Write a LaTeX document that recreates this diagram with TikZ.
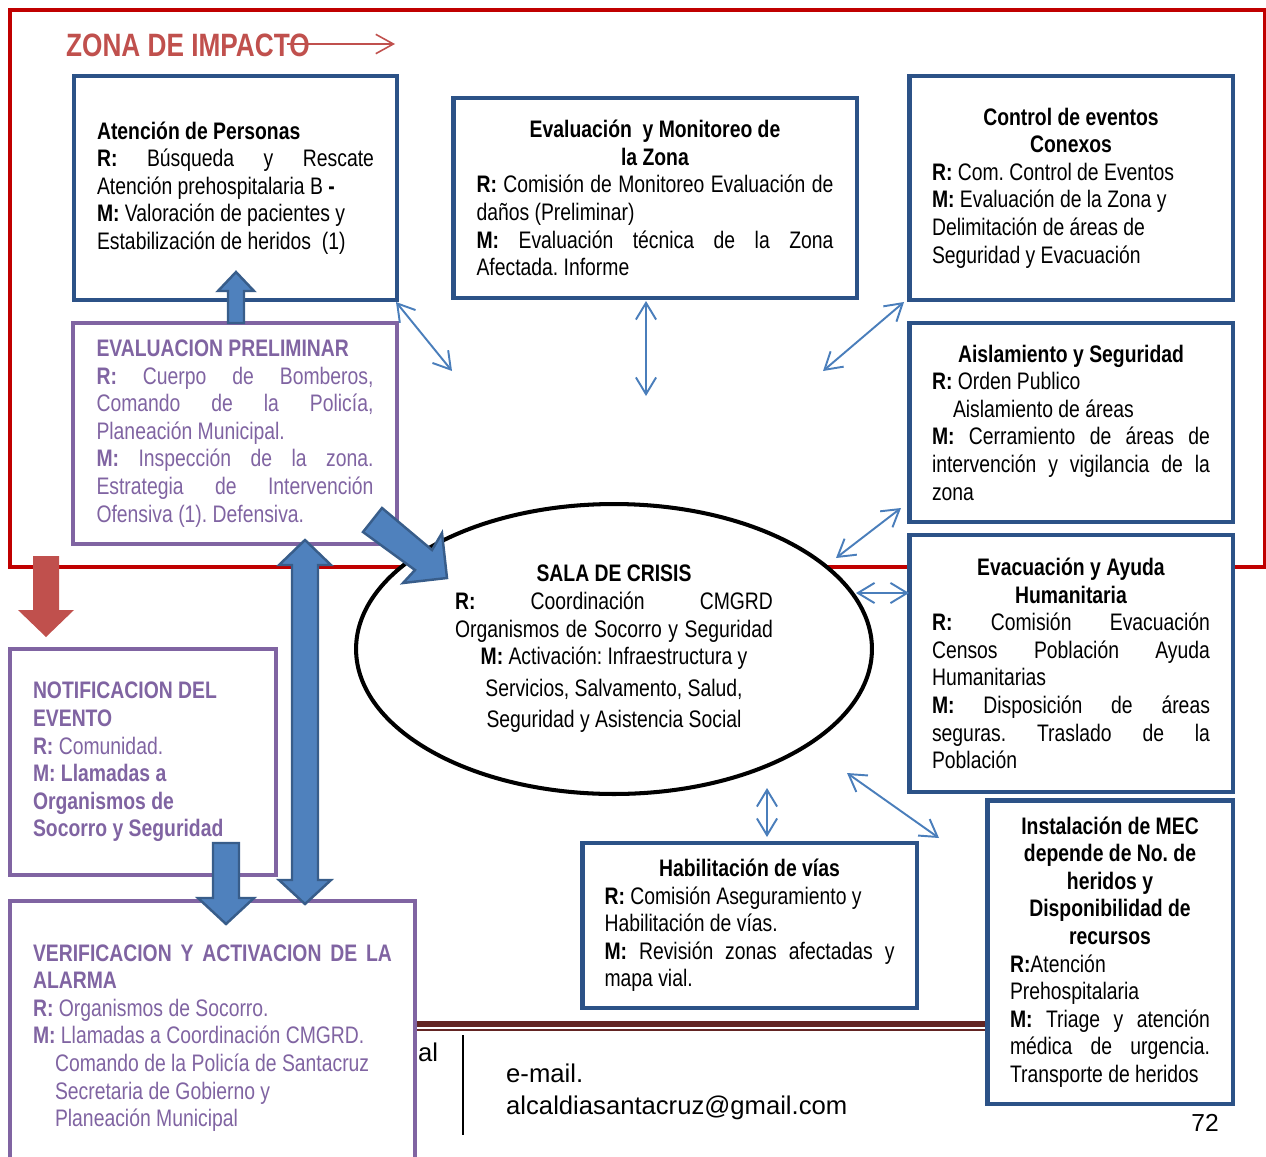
\documentclass[tikz,border=0pt]{standalone}
\usepackage{fontspec}
\setmainfont{Liberation Sans}[FakeStretch=0.81]
\newfontfamily\plainfont{Liberation Sans}
\usepackage{tikz}
\usetikzlibrary{arrows.meta,shapes.geometric}

\definecolor{zoneline}{RGB}{192,0,0}
\definecolor{zonetext}{RGB}{192,80,77}
\definecolor{boxblue}{RGB}{44,82,135}
\definecolor{boxpurple}{RGB}{128,100,162}
\definecolor{fatfill}{RGB}{79,129,189}
\definecolor{fatedge}{RGB}{56,93,138}
\definecolor{linkblue}{RGB}{74,126,187}
\definecolor{footline}{RGB}{99,37,35}

% justified and centred lines inside the boxes
\newcommand{\jl}[1]{{\frenchspacing\spaceskip=0pt\xspaceskip=0pt\makebox[\hsize][s]{#1}}}
\newcommand{\cl}[1]{\makebox[\hsize][c]{#1}}
\newcommand{\boxfont}{\fontsize{13.6}{15.7}\selectfont}

\begin{document}
\frenchspacing
\begin{tikzpicture}[x=0.02cm, y=-0.02cm,
    bluebox/.style={draw=boxblue, line width=2.8pt, fill=white, inner sep=0pt,
      align=justify, font=\boxfont},
    purplebox/.style={draw=boxpurple, line width=2.3pt, fill=white, inner sep=0pt,
      align=justify, text=boxpurple, font=\boxfont},
    fatarrow/.style={draw=fatedge, fill=fatfill, line width=1.4pt},
    link/.style={linkblue, line width=1.1pt,
      {Straight Barb[length=9.5pt,width=11.5pt]}-{Straight Barb[length=9.5pt,width=11.5pt]}}]
    \useasboundingbox (0, 0) rectangle (1266, 1156);

    % impact zone
    \draw [zoneline, line width=2.3pt] (10, 10) rectangle (1265, 567);
    \node [anchor=west, text=zonetext, font=\bfseries\fontsize{18.4}{21}\selectfont]
      (zona) at (60, 45) {ZONA DE IMPACTO};
    \coordinate (zonastart) at (287, 44);
    \coordinate (zonaend) at (395, 44);
    \draw [zonetext, line width=0.9pt, -{Straight Barb[length=10pt,width=11pt]}]
      (zonastart) -- (zonaend);

    % footer
    \draw [footline, line width=3.4pt] (415, 1024) -- (990, 1024);
    \draw [footline, line width=0.8pt] (415, 1030) -- (990, 1030);
    \coordinate (bartop) at (463, 1035);
    \coordinate (barbottom) at (463, 1135);
    \draw [line width=0.9pt] (bartop) -- (barbottom);
    \node [anchor=west, font=\plainfont\fontsize{14.6}{18.1}\selectfont]
      (pal) at (412, 1052) {al};
    \node [anchor=west, align=left, font=\plainfont\fontsize{14.6}{18.1}\selectfont]
      (mail) at (500, 1092) {e-mail.\\alcaldiasantacruz@gmail.com};
    \node [font=\plainfont\fontsize{14}{16}\selectfont] (page) at (1205, 1123) {72};

    % boxes inside the zone
    \node [bluebox, minimum width=6.46cm, minimum height=4.48cm, text width=5.54cm]
      (atencion) at (235.5, 188) {%
      \textbf{Atención de Personas}\\
      \jl{\textbf{R:} Búsqueda y Rescate}\\
      Atención prehospitalaria B \textbf{-}\\
      \textbf{M:} Valoración de pacientes y\\
      Estabilización de heridos~ (1)};

    \node [bluebox, minimum width=8.08cm, minimum height=4cm, text width=7.14cm]
      (monitoreo) at (655, 198) {%
      \cl{\textbf{Evaluación~ y Monitoreo de}}\\
      \cl{\textbf{la Zona}}\\
      \jl{\textbf{R:} Comisión de Monitoreo Evaluación de}\\
      daños (Preliminar)\\
      \jl{\textbf{M:} Evaluación técnica de la Zona}\\
      Afectada. Informe};

    \node [bluebox, minimum width=6.48cm, minimum height=4.48cm, text width=5.56cm]
      (control) at (1071, 188) {%
      \cl{\textbf{Control de eventos}}\\
      \cl{\textbf{Conexos}}\\
      \textbf{R:} Com. Control de Eventos\\
      \textbf{M:} Evaluación de la Zona y\\
      Delimitación de áreas de\\
      Seguridad y Evacuación};

    \node [bluebox, minimum width=6.48cm, minimum height=3.98cm, text width=5.56cm]
      (aislamiento) at (1071, 422.5) {%
      \cl{\textbf{Aislamiento y Seguridad}}\\
      \textbf{R:} Orden Publico\\
      \hspace*{0.42cm}Aislamiento de áreas\\
      \jl{\textbf{M:} Cerramiento de áreas de}\\
      \jl{intervención y vigilancia de la}\\
      zona};

    \node [bluebox, minimum width=6.48cm, minimum height=5.14cm, text width=5.56cm]
      (evacuacion) at (1071, 663.5) {%
      \cl{\textbf{Evacuación y Ayuda}}\\
      \cl{\textbf{Humanitaria}}\\
      \jl{\textbf{R:} Comisión Evacuación}\\
      \jl{Censos Población Ayuda}\\
      Humanitarias\\
      \jl{\textbf{M:} Disposición de áreas}\\
      \jl{seguras. Traslado de la}\\
      Población};

    \node [purplebox, minimum width=6.48cm, minimum height=4.42cm, text width=5.54cm]
      (preliminar) at (235, 433.5) {%
      \textbf{EVALUACION PRELIMINAR}\\
      \jl{\textbf{R:} Cuerpo de Bomberos,}\\
      \jl{Comando de la Policía,}\\
      Planeación Municipal.\\
      \jl{\textbf{M:} Inspección de la zona.}\\
      \jl{Estrategia de Intervención}\\
      Ofensiva (1). Defensiva.};

    % crisis room
    \node [ellipse, draw, line width=2.3pt, fill=white, inner sep=0pt,
      minimum width=10.32cm, minimum height=5.8cm, text width=6.36cm,
      align=justify, font=\boxfont] (sala) at (614, 649) {%
      \cl{\textbf{SALA DE CRISIS}}\\
      \jl{\textbf{R:} Coordinación CMGRD}\\
      \jl{Organismos de Socorro y Seguridad}\\
      \cl{\textbf{M:} Activación: Infraestructura y}\\[2.3pt]
      \cl{Servicios, Salvamento, Salud,}\\[2.3pt]
      \cl{Seguridad y Asistencia Social}};

    % boxes outside the zone
    \node [bluebox, minimum width=4.92cm, minimum height=6.08cm, text width=4cm]
      (mec) at (1110, 952) {%
      \cl{\textbf{Instalación de MEC}}\\
      \cl{\textbf{depende de No. de}}\\
      \cl{\textbf{heridos y}}\\
      \cl{\textbf{Disponibilidad de}}\\
      \cl{\textbf{recursos}}\\
      \textbf{R:}Atención\\
      Prehospitalaria\\
      \jl{\textbf{M:} Triage y atención}\\
      \jl{médica de urgencia.}\\
      Transporte de heridos};

    \node [bluebox, minimum width=6.7cm, minimum height=3.3cm, text width=5.8cm]
      (vias) at (749.5, 925.5) {%
      \cl{\textbf{Habilitación de vías}}\\
      \textbf{R:} Comisión Aseguramiento y\\
      Habilitación de vías.\\
      \jl{\textbf{M:} Revisión zonas afectadas y}\\
      mapa vial.};

    \node [purplebox, minimum width=5.32cm, minimum height=4.52cm, text width=4.4cm]
      (notificacion) at (143, 762) {%
      \textbf{NOTIFICACION DEL}\\
      \textbf{EVENTO}\\
      \textbf{R:} Comunidad.\\
      \textbf{M: Llamadas a}\\
      \textbf{Organismos de}\\
      \textbf{Socorro y Seguridad}};

    \node [purplebox, minimum width=8.1cm, minimum height=5.48cm, text width=7.18cm]
      (verificacion) at (212.5, 1038) {%
      \jl{\textbf{VERIFICACION Y ACTIVACION DE LA}}\\
      \textbf{ALARMA}\\
      \textbf{R:} Organismos de Socorro.\\
      \textbf{M:} Llamadas a Coordinación CMGRD.\\
      \hspace*{0.44cm}Comando de la Policía de Santacruz\\
      \hspace*{0.44cm}Secretaria de Gobierno y\\
      \hspace*{0.44cm}Planeación Municipal};

    % block arrows
    \fill [zonetext] (33, 556) -- (59, 556) -- (59, 610) -- (74, 610) -- (46, 637)
      -- (18, 610) -- (33, 610) -- cycle;
    \draw [fatarrow] (228, 323) -- (228, 291) -- (218, 291) -- (236, 272)
      -- (254, 291) -- (244, 291) -- (244, 323) -- cycle;
    \draw [fatarrow] (363, 532) -- (382, 508) -- (432, 550) -- (442, 533)
      -- (447, 578) -- (403, 583) -- (415, 570) -- cycle;
    \draw [fatarrow] (305, 540) -- (331, 565) -- (318, 565) -- (318, 880)
      -- (331, 880) -- (305, 904) -- (279, 880) -- (292, 880) -- (292, 565)
      -- (279, 565) -- cycle;
    \draw [fatarrow] (213, 843) -- (239, 843) -- (239, 898) -- (254, 898)
      -- (226, 924) -- (198, 898) -- (213, 898) -- cycle;

    % links to the crisis room
    \coordinate (l1a) at (396, 302);
    \coordinate (l1b) at (452, 371);
    \coordinate (l2a) at (646, 301);
    \coordinate (l2b) at (646, 396);
    \coordinate (l3a) at (904, 302);
    \coordinate (l3b) at (823, 371);
    \coordinate (l4a) at (901, 508);
    \coordinate (l4b) at (836, 558);
    \coordinate (l5a) at (856, 593);
    \coordinate (l5b) at (909, 593);
    \coordinate (l6a) at (767, 788);
    \coordinate (l6b) at (767, 837);
    \coordinate (l7a) at (847, 773);
    \coordinate (l7b) at (939, 838);
    \foreach \i in {1, ..., 7} {
      \draw [link] (l\i a) -- (l\i b);
    }
\end{tikzpicture}
\end{document}
